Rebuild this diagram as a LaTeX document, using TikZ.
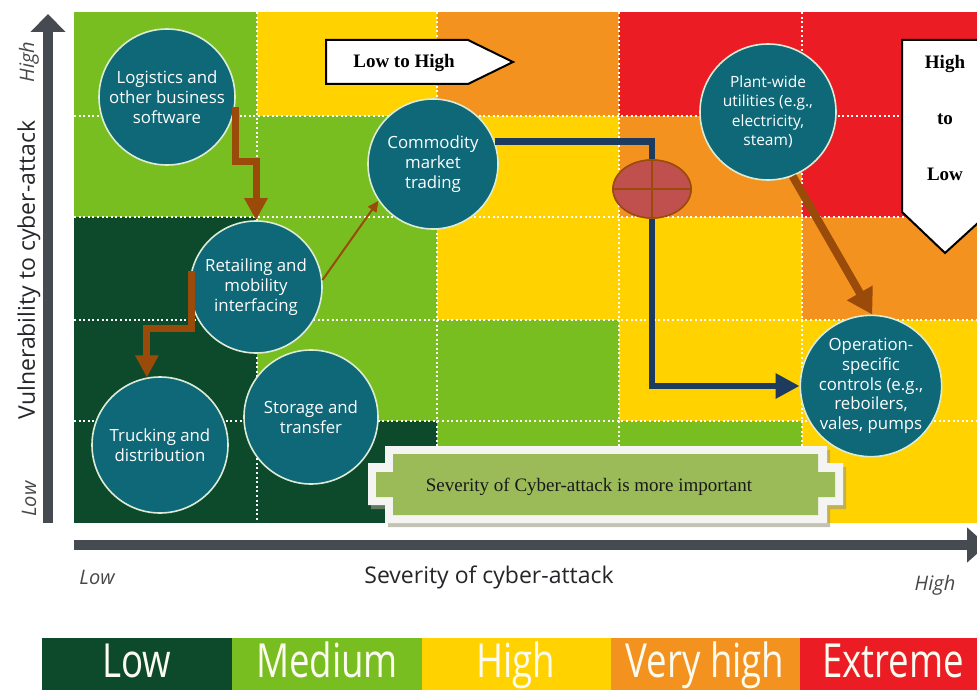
\documentclass[tikz,border=0pt]{standalone}
\usepackage{fontspec}
\setmainfont{Open Sans}
\newfontfamily\seriffont{Liberation Serif}
\usetikzlibrary{arrows.meta,shapes.geometric}

% risk scale
\definecolor{lowc}{HTML}{0D4A2C}
\definecolor{medc}{HTML}{78BE20}
\definecolor{highc}{HTML}{FFD200}
\definecolor{vhighc}{HTML}{F4921F}
\definecolor{extc}{HTML}{EC1C24}
% drawing colours
\definecolor{bubblefill}{HTML}{0E6877}
\definecolor{bubbleedge}{HTML}{DCEBD5}
\definecolor{rust}{HTML}{9A4A09}
\definecolor{navyline}{HTML}{1D3A5F}
\definecolor{axisgray}{HTML}{464A51}
\definecolor{labelgray}{HTML}{26262A}
\definecolor{bannergreen}{HTML}{9BBB59}
\definecolor{bannerframe}{HTML}{F4F4F2}
\definecolor{bannershadow}{HTML}{9C9C84}
\definecolor{junctionfill}{HTML}{C0504D}
\definecolor{legendtext}{HTML}{FCFBEF}

\tikzset{
  cell/.style={fill=#1},
  gridline/.style={white, line width=1.6pt, dash pattern=on 2pt off 2.6pt},
  bubble/.style={circle, fill=bubblefill, draw=bubbleedge, line width=1.6pt,
    inner sep=0pt, text=white, align=center,
    font=\fontsize{16.8}{19.8}\selectfont},
  stepflow/.style={rust, line width=7pt, line join=miter,
    -{Triangle[length=22pt,width=22pt]}},
  thinflow/.style={rust, line width=2pt, -{Triangle[length=11pt,width=10pt]}},
  slantflow/.style={rust, line width=8pt, -{Triangle[length=25pt,width=28pt]}},
  navyflow/.style={navyline, line width=6.5pt, line join=miter},
  axisline/.style={axisgray, line width=10pt},
  signbox/.style={fill=white, draw=black, line width=2pt, line join=miter},
  signtext/.style={font=\seriffont\bfseries\fontsize{19}{22}\selectfont, text=black},
  axislabel/.style={text=labelgray, font=\fontsize{23}{27}\selectfont},
  axisend/.style={text=labelgray!85, font=\itshape\fontsize{20}{24}\selectfont},
  legendlabel/.style={anchor=base, text=legendtext, inner sep=0pt,
    font=\fontsize{47}{47}\selectfont}
}

\begin{document}
\begin{tikzpicture}[x=1pt, y=-1pt]
\useasboundingbox (0,0) rectangle (977,690);
\clip (0,0) rectangle (977,690);
\fill[white] (0,0) rectangle (977,690);

% ---- heat map, rows from top to bottom ----
\fill[cell=medc]   (74,12) rectangle (257,116);
\fill[cell=highc]  (257,12) rectangle (437,116);
\fill[cell=vhighc] (437,12) rectangle (619,116);
\fill[cell=extc]   (619,12) rectangle (802,116);
\fill[cell=extc]   (802,12) rectangle (990,116);

\fill[cell=medc]   (74,116) rectangle (257,217);
\fill[cell=medc]   (257,116) rectangle (437,217);
\fill[cell=highc]  (437,116) rectangle (619,217);
\fill[cell=vhighc] (619,116) rectangle (802,217);
\fill[cell=extc]   (802,116) rectangle (990,217);

\fill[cell=lowc]   (74,217) rectangle (257,320);
\fill[cell=medc]   (257,217) rectangle (437,320);
\fill[cell=highc]  (437,217) rectangle (619,320);
\fill[cell=highc]  (619,217) rectangle (802,320);
\fill[cell=vhighc] (802,217) rectangle (990,320);

\fill[cell=lowc]   (74,320) rectangle (257,421);
\fill[cell=medc]   (257,320) rectangle (437,421);
\fill[cell=medc]   (437,320) rectangle (619,421);
\fill[cell=highc]  (619,320) rectangle (802,421);
\fill[cell=highc]  (802,320) rectangle (990,421);

\fill[cell=lowc]   (74,421) rectangle (257,523);
\fill[cell=lowc]   (257,421) rectangle (437,523);
\fill[cell=medc]   (437,421) rectangle (619,523);
\fill[cell=medc]   (619,421) rectangle (802,523);
\fill[cell=highc]  (802,421) rectangle (990,523);

% dotted cell borders
\foreach \gx in {257,437,619,802} \draw[gridline] (\gx,12) -- (\gx,523);
\foreach \gy in {116,217,320,421} \draw[gridline] (74,\gy) -- (977,\gy);

% ---- axes ----
\coordinate (ybase) at (48,523);
\coordinate (ytip) at (48,14);
\coordinate (xbase) at (74,545);
\coordinate (xtip) at (987,545);
\draw[axisline, -{Triangle[length=18pt,width=34pt]}] (ybase) -- (ytip);
\draw[axisline, -{Triangle[length=20pt,width=34pt]}] (xbase) -- (xtip);

\node[axislabel, rotate=90] (vlabel) at (29,270) {Vulnerability to cyber-attack};
\node[axisend, rotate=90] (vhigh) at (29,62) {High};
\node[axisend, rotate=90] (vlow) at (29,499) {Low};
\node[axisend] (hlow) at (97,577) {Low};
\node[axislabel] (hlabel) at (489,577) {Severity of cyber-attack};
\node[axisend] (hhigh) at (935,585) {High};

% ---- note banner ----
\fill[bannershadow, opacity=0.6] (388,450) -- (830,450) -- (830,467) -- (846,467) -- (846,509)
  -- (830,509) -- (830,527) -- (388,527) -- (388,509) -- (371,509) -- (371,467) -- (388,467) -- cycle;
\fill[bannerframe] (385,446) -- (827,446) -- (827,463) -- (843,463) -- (843,505)
  -- (827,505) -- (827,523) -- (385,523) -- (385,505) -- (368,505) -- (368,463) -- (385,463) -- cycle;
\fill[bannergreen] (393,454) -- (818,454) -- (818,472) -- (835,472) -- (835,497)
  -- (818,497) -- (818,515) -- (393,515) -- (393,497) -- (376,497) -- (376,472) -- (393,472) -- cycle;
\node[font=\seriffont\fontsize{19}{22}\selectfont, text=black!90] (note) at (589,487)
  {Severity of Cyber-attack is more important};

% ---- direction signs ----
\filldraw[signbox] (326,40) -- (468,40) -- (513,62) -- (468,84) -- (326,84) -- cycle;
\node[signtext] (lowhigh) at (404,63) {Low to High};
\filldraw[signbox] (902,40) -- (990,40) -- (990,212) -- (945,253) -- (902,212) -- cycle;
\node[signtext] (hl1) at (945,64) {High};
\node[signtext] (hl2) at (945,119) {to};
\node[signtext] (hl3) at (945,174) {Low};

% ---- sectors ----
\node[bubble, minimum size=136pt] (logi) at (167,97) {Logistics and\\other business\\software};
\node[bubble, minimum size=130pt] (comm) at (433,164) {Commodity\\market\\trading};
\node[bubble, minimum size=132pt] (retail) at (256,287) {Retailing and\\mobility\\interfacing};
\node[bubble, minimum size=136pt] (truck) at (160,445) {Trucking and\\distribution};
\node[bubble, minimum size=134pt] (store) at (311,417) {Storage and\\transfer};
\node[bubble, minimum size=136pt, font=\fontsize{15.5}{19.5}\selectfont] (plant) at (768,112)
  {Plant-wide\\utilities (e.g.,\\electricity,\\steam)};
\node[bubble, minimum size=138pt] (oper) at (871,386)
  {Operation-\\specific\\controls (e.g.,\\reboilers,\\vales, pumps};

% ---- flows ----
\draw[stepflow] (logi.-8) -- ++(0,55) -| (retail.north);
\draw[stepflow] (retail.166) -- ++(0,58) -| (truck.101);
\draw[thinflow] (retail.6) -- (comm.214);
\draw[slantflow] (plant.-69) -- (oper.89);

\node[ellipse, fill=junctionfill, draw=rust, line width=1.5pt, inner sep=0pt,
  minimum width=78pt, minimum height=58pt] (junc) at (652,189) {};
\draw[navyflow] (comm.20) -| (junc.north);
\draw[navyflow, -{Triangle[length=24pt,width=24pt]}] (junc.south) |- (oper.west);
\filldraw[fill=junctionfill, draw=rust, line width=1.5pt] (junc.center) ellipse[x radius=39pt, y radius=29pt];
\draw[rust, line width=1.3pt] (junc.west) -- (junc.east) (junc.north) -- (junc.south);

% ---- legend ----
\fill[lowc]   (42,638) rectangle (232,690);
\fill[medc]   (232,638) rectangle (422,690);
\fill[highc]  (422,638) rectangle (611,690);
\fill[vhighc] (611,638) rectangle (800,690);
\fill[extc]   (800,638) rectangle (990,690);
\node[legendlabel] (lg1) at (137,677) {\scalebox{0.78}[1]{Low}};
\node[legendlabel] (lg2) at (327,677) {\scalebox{0.78}[1]{Medium}};
\node[legendlabel] (lg3) at (516,677) {\scalebox{0.78}[1]{High}};
\node[legendlabel] (lg4) at (705,677) {\scalebox{0.78}[1]{Very high}};
\node[legendlabel] (lg5) at (893,677) {\scalebox{0.78}[1]{Extreme}};
\end{tikzpicture}
\end{document}
